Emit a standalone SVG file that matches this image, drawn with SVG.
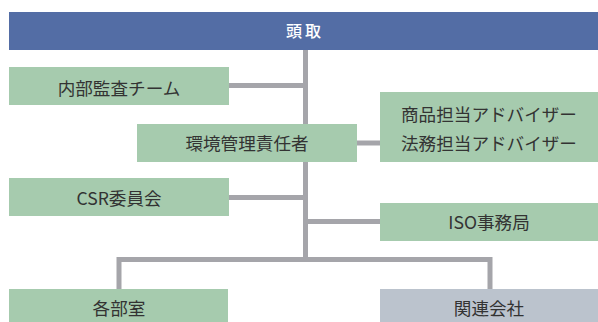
<svg xmlns="http://www.w3.org/2000/svg" width="598" height="322" viewBox="0 0 598 322">
<style>
.g{fill:#a6cbae}
.s{fill:#bbc3cd}
.t{font-family:"Noto Sans CJK JP","Noto Sans",sans-serif;font-size:17.6px;fill:#333;text-anchor:middle}
.c{fill:none;stroke:#a5a5aa;stroke-width:5}
</style>
<rect width="598" height="322" fill="#fff"/>
<g id="connectors">
<path class="c" d="M305.5 50V259.5M229 85.5H305.5M229 197.5H305.5M357 143H380M305.5 221.5H380M119 289V259.5H490V289"/>
</g>
<g id="n-touzori">
<rect x="9" y="12" width="589" height="38" fill="#536da5"/>
<text x="305" y="37" style="font-family:'Noto Sans CJK JP','Noto Sans',sans-serif;font-size:16px;font-weight:500;fill:#fff;text-anchor:middle;letter-spacing:3px">頭取</text>
</g>
<g id="n-audit">
<rect class="g" x="9" y="67" width="220" height="38"/>
<text class="t" x="119" y="94.5">内部監査チーム</text>
</g>
<g id="n-env">
<rect class="g" x="137" y="124" width="220" height="38"/>
<text class="t" x="247" y="149.5">環境管理責任者</text>
</g>
<g id="n-advisor">
<rect class="g" x="380" y="92" width="218" height="70"/>
<text class="t" x="489" y="121">商品担当アドバイザー</text>
<text class="t" x="489" y="149.5">法務担当アドバイザー</text>
</g>
<g id="n-csr">
<rect class="g" x="9" y="178" width="220" height="38"/>
<text class="t" x="119" y="204.5">CSR委員会</text>
</g>
<g id="n-iso">
<rect class="g" x="380" y="203" width="218" height="38"/>
<text class="t" x="489" y="229">ISO事務局</text>
</g>
<g id="n-depts">
<rect class="g" x="9" y="289" width="219" height="33"/>
<text class="t" x="119" y="314.5">各部室</text>
</g>
<g id="n-affiliates">
<rect class="s" x="380" y="289" width="218" height="33"/>
<text class="t" x="489" y="314.5">関連会社</text>
</g>
</svg>
